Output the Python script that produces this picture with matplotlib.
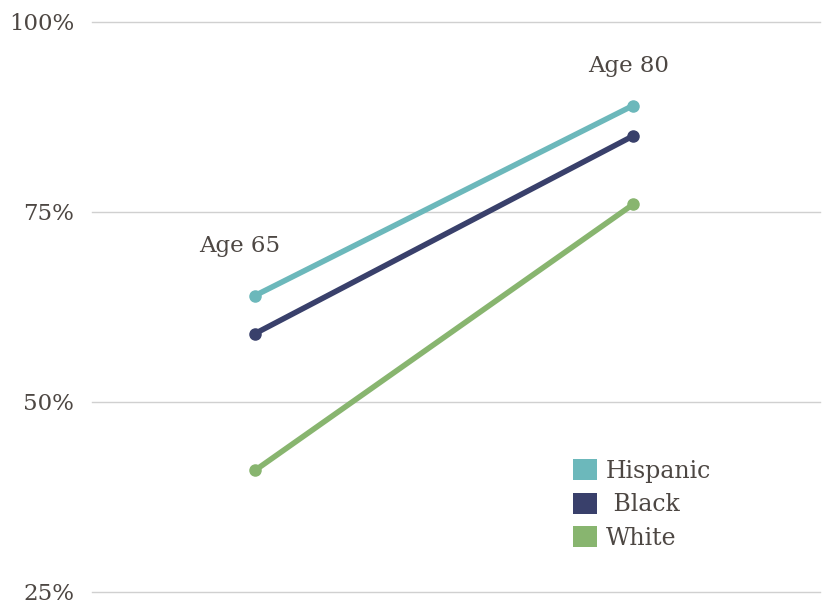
import matplotlib
matplotlib.use("Agg")
import matplotlib.pyplot as plt
from matplotlib.patches import Patch

# data
ages = ["Age 65", "Age 80"]
hispanic = [64, 89]
black = [59, 85]
white = [41, 76]
series_names = ["Hispanic", " Black", "White"]
colors = ["#6cb8bb", "#39406b", "#88b56f"]
yticks = [25, 50, 75, 100]

plt.rcParams['font.family'] = ['DejaVu Serif']
txt = "#4d4743"

fig = plt.figure(figsize=(8.34, 6.07), dpi=100)
ax = fig.add_axes([92/834, 15/607, 728/834, 570/607])

x = [0, 1]
for vals, c in zip([hispanic, black, white], colors):
    ax.plot(x, vals, color=c, lw=4, marker="o", ms=8, solid_capstyle="round", zorder=3)

ax.set_xlim(-163/378, 565/378)
ax.set_ylim(25, 100)
ax.set_yticks(yticks)
ax.set_yticklabels([f"{v}%" for v in yticks], fontsize=16.5, color=txt)
ax.tick_params(axis="y", length=0, pad=13)
ax.set_xticks([])
ax.grid(axis="y", color="#d0d0d0", lw=1)
for gl in ax.get_ygridlines():
    gl.set_clip_on(False)
ax.set_axisbelow(True)
for s in ax.spines.values():
    s.set_visible(False)

# age labels
ax.text(-0.04, 70.5, ages[0], ha="center", va="center", fontsize=16.5, color=txt)
ax.text(0.987, 94.2, ages[1], ha="center", va="center", fontsize=16.5, color=txt)

handles = [Patch(facecolor=c, edgecolor="none") for c in colors]
leg = ax.legend(handles, series_names, loc="upper left",
                bbox_to_anchor=(573/834, (607-459)/607), bbox_transform=fig.transFigure,
                frameon=False, fontsize=17, handlelength=1.0, handleheight=1.0,
                handletextpad=0.4, labelspacing=0.42, borderpad=0, borderaxespad=0)
for t in leg.get_texts():
    t.set_color(txt)

fig.savefig("out.png", dpi=100)
